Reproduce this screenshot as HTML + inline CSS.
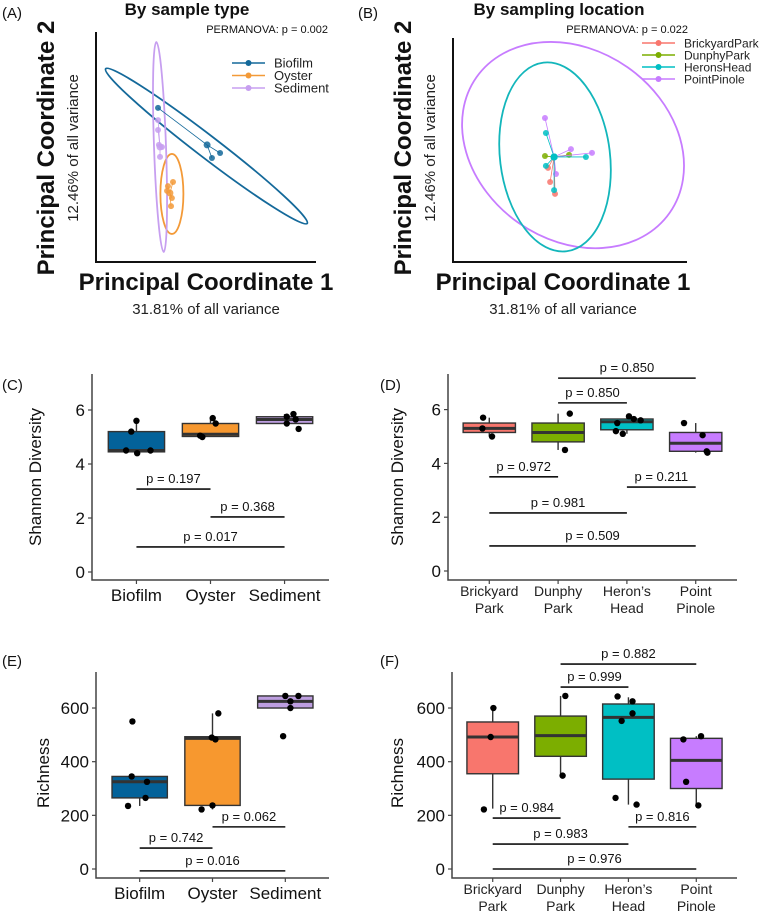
<!DOCTYPE html>
<html><head><meta charset="utf-8">
<style>
html,body{margin:0;padding:0;background:#fff;}
svg{display:block;font-family:"Liberation Sans",Arial,sans-serif;}
</style></head>
<body>
<svg id="fig" width="761" height="911" viewBox="0 0 761 911" xmlns="http://www.w3.org/2000/svg">
<g id="root"></g>
</svg>
<script>
// ---------- PCoA data (A) ----------
const typeGroups = ['Biofilm','Oyster','Sediment'];
const typeColors = ['#14699a','#f39a38','#c79ff0'];
const biofilmPts = [[0.505,0.509],[0.564,0.474],[0.527,0.452],[0.282,0.670]];
const oysterPts = [[0.336,0.300],[0.350,0.348],[0.323,0.309],[0.345,0.278],[0.341,0.243],[0.327,0.330]];
const sedimentPts = [[0.291,0.500],[0.282,0.574],[0.286,0.509],[0.300,0.500],[0.291,0.457],[0.282,0.617]];
const typeEllipses = [[0.502,0.504,127,11,37.5],[0.345,0.296,11.5,40,0],[0.291,0.500,6,105,-2]];
// ---------- PCoA data (B) ----------
const locGroups = ['BrickyardPark','DunphyPark','HeronsHead','PointPinole'];
const locColors = ['#F8766D','#7CAE00','#00BFC4','#C77CFF'];
const locCentroid = [0.432,0.469];
const brickPts = [[0.415,0.357],[0.436,0.304],[0.406,0.420]];
const dunphyPts = [[0.393,0.473],[0.496,0.478]];
const heronPts = [[0.397,0.576],[0.397,0.429],[0.568,0.469],[0.432,0.321]];
const pinolePts = [[0.393,0.643],[0.504,0.504],[0.594,0.487],[0.440,0.393]];
const locEllipses = [[0.513,0.522,118,95,35],[0.436,0.469,55,95,-7]];

// ---------- Box data ----------
const typeCats = ['Biofilm','Oyster','Sediment'];
const locCats = [['Brickyard','Park'],['Dunphy','Park'],['Heron’s','Head'],['Point','Pinole']];
const typeFill = ['#03629a','#f7982f','#bd9ee0'];
const locFill = ['#F8766D','#7CAE00','#00BFC4','#C77CFF'];
// [q1, median, q3, whiskerLo, whiskerHi]
const shannonTypeBox = [[4.45,4.5,5.2,4.4,5.6],[5.02,5.1,5.5,5.0,5.7],[5.5,5.65,5.75,5.5,5.85]];
const shannonTypePts = [[[5.6,0],[5.2,-0.07],[4.5,-0.14],[4.4,0.01],[4.5,0.19]],[[5.7,0.03],[5.5,0.07],[5.05,-0.14],[5.0,-0.11]],[[5.85,0.12],[5.75,0.03],[5.65,0.15],[5.5,0.03],[5.3,0.19]]];
const shannonTypeP = [[0,1,3.07,'p = 0.197'],[1,2,2.04,'p = 0.368'],[0,2,0.93,'p = 0.017']];
const shannonLocBox = [[5.15,5.3,5.5,5.0,5.7],[4.8,5.15,5.5,4.5,5.85],[5.25,5.55,5.65,5.1,5.75],[4.45,4.75,5.15,4.4,5.5]];
const shannonLocPts = [[[5.7,-0.09],[5.3,-0.1],[5.0,0.04]],[[5.85,0.17],[4.5,0.1]],[[5.75,0.03],[5.65,0.1],[5.6,0.2],[5.5,-0.14],[5.2,-0.16],[5.1,-0.06]],[[5.5,-0.17],[5.05,0.1],[4.45,0.16],[4.4,0.17]]];
const shannonLocP = [[1,3,7.17,'p = 0.850'],[1,2,6.25,'p = 0.850'],[0,1,3.5,'p = 0.972'],[2,3,3.12,'p = 0.211'],[0,2,2.16,'p = 0.981'],[0,3,0.93,'p = 0.509']];
const richTypeBox = [[265,325,345,235,345],[237,487,493,222,580],[600,625,645,600,645]];
const richTypePts = [[[550,-0.1],[345,-0.11],[325,0.1],[265,0.08],[235,-0.16]],[[580,0.08],[490,-0.01],[483,0.04],[237,0],[222,-0.15]],[[645,0],[645,0.18],[625,0.07],[600,0.07],[495,-0.03]]];
const richTypeP = [[1,2,157,'p = 0.062'],[0,1,78,'p = 0.742'],[0,2,-7,'p = 0.016']];
const richLocBox = [[355,492,548,225,600],[420,497,570,350,645],[335,565,615,240,640],[300,405,487,237,495]];
const richLocPts = [[[600,0.01],[492,-0.03],[222,-0.13]],[[645,0.07],[348,0.03]],[[643,-0.16],[625,0.06],[580,0.06],[552,-0.1],[265,-0.19],[240,0.12]],[[495,0.07],[483,-0.19],[325,-0.15],[237,0.03]]];
const richLocP = [[1,3,764,'p = 0.882'],[1,2,678,'p = 0.999'],[0,1,190,'p = 0.984'],[2,3,157,'p = 0.816'],[0,2,93,'p = 0.983'],[0,3,0,'p = 0.976']];
const shannonTicks = [0,2,4,6];
const richTicks = [0,200,400,600];

const NS='http://www.w3.org/2000/svg';
const root=document.getElementById('root');
function el(tag,attrs,parent,text){const e=document.createElementNS(NS,tag);for(const k in attrs)e.setAttribute(k,attrs[k]);if(text!==undefined)e.textContent=text;(parent||root).appendChild(e);return e;}

// ---------- PCoA panel ----------
function pcoa(cfg){
  const g=el('g',{});
  
  
  const xs=v=>cfg.x0+v*cfg.w, ys=v=>cfg.y0-v*cfg.h;
  cfg.ellipses.forEach((e,i)=>{
    const c=el('ellipse',{cx:xs(e[0]),cy:ys(e[1]),rx:e[2],ry:e[3],transform:`rotate(${e[4]} ${xs(e[0])} ${ys(e[1])})`,fill:'none',stroke:cfg.ellColors[i],'stroke-width':1.8},g);
    
    
  });
  cfg.groups.forEach((pts,gi)=>{
    const col=cfg.colors[gi]; const cen=cfg.centroids?cfg.centroids:pts[0];
    pts.forEach((p,j)=>{ if(!cfg.centroids&&j===0)return;
      el('line',{x1:xs(cen[0]),y1:ys(cen[1]),x2:xs(p[0]),y2:ys(p[1]),stroke:col,'stroke-width':0.8},g);});
    pts.forEach((p,j)=>{
      const c=el('circle',{cx:xs(p[0]),cy:ys(p[1]),r:(!cfg.centroids&&j===0)?3.5:3,fill:col,'fill-opacity':0.85},g);
      
      
    });
    if(cfg.centroids){el('circle',{cx:xs(cen[0]),cy:ys(cen[1]),r:3.5,fill:cfg.centColor},g);}
  });
  el('path',{d:`M${cfg.x0} ${cfg.y0-cfg.h}V${cfg.y0}H${cfg.x0+cfg.w}`,fill:'none',stroke:'#111','stroke-width':2},g);
  cfg.names.forEach((n,i)=>{
    const y=cfg.legY+i*cfg.legStep;
    el('line',{x1:cfg.legX,y1:y,x2:cfg.legX+33,y2:y,stroke:cfg.legColors[i],'stroke-width':1.5},g);
    el('circle',{cx:cfg.legX+16.5,cy:y,r:3,fill:cfg.legColors[i]},g);
    const t=el('text',{x:cfg.legX+42,y:y+4.5,'font-size':cfg.legFont,fill:'#222'},g,n);
    
    
  });
}
pcoa({name:'panel-a-pcoa-sample-type',x0:96,y0:262,w:220,h:230,ellipses:typeEllipses,ellColors:[typeColors[0],typeColors[1],typeColors[2]],ellNames:['biofilm','oyster','sediment'],
  groups:[biofilmPts,oysterPts,sedimentPts],colors:typeColors,legColors:typeColors,names:typeGroups,legX:232,legY:63,legStep:12.5,legFont:13});
pcoa({name:'panel-b-pcoa-location',x0:453,y0:262,w:234,h:224,ellipses:locEllipses,ellColors:['#c77cff','#13b6bb'],ellNames:['pointpinole','heronshead'],
  groups:[brickPts,dunphyPts,pinolePts,heronPts],colors:[locColors[0],locColors[1],locColors[3],locColors[2]],legColors:locColors,names:locGroups,centroids:locCentroid,centColor:'#00BFC4',legX:642,legY:43,legStep:12,legFont:12});
</script>
<script>
function txt(x,y,s,size,opts,name){const t=el('text',Object.assign({x:x,y:y,'font-size':size,fill:'#111'},opts||{}),root,s);return t;}
txt(2,18,'(A)',15,{},'panel-label-a');
txt(358,18,'(B)',15,{},'panel-label-b');
txt(187,15,'By sample type',17,{'text-anchor':'middle','font-weight':'bold'},'title-a');
txt(559,15,'By sampling location',17,{'text-anchor':'middle','font-weight':'bold'},'title-b');
txt(328,33,'PERMANOVA: p = 0.002',11,{'text-anchor':'end'},'permanova-a');
txt(688,33,'PERMANOVA: p = 0.022',11,{'text-anchor':'end'},'permanova-b');
[[0,'a'],[357,'b']].forEach(([dx,k])=>{
  txt(206+dx,290,'Principal Coordinate 1',24,{'text-anchor':'middle','font-weight':'bold'},'x-axis-title-'+k);
  txt(206+dx,314,'31.81% of all variance',15,{'text-anchor':'middle','fill':'#222'},'x-axis-subtitle-'+k);
  txt(0,0,'Principal Coordinate 2',24,{'text-anchor':'middle','font-weight':'bold',transform:`translate(${54+dx},148) rotate(-90)`},'y-axis-title-'+k);
  txt(0,0,'12.46% of all variance',15,{'text-anchor':'middle','fill':'#222',transform:`translate(${78+dx},148) rotate(-90)`},'y-axis-subtitle-'+k);
});
txt(2,390,'(C)',15,{},'panel-label-c');
txt(380,390,'(D)',15,{},'panel-label-d');
txt(2,666,'(E)',15,{},'panel-label-e');
txt(380,666,'(F)',15,{},'panel-label-f');

function boxPanel(cfg){
  const g=el('g',{});  
  const n=cfg.cats.length, step=(cfg.x1-cfg.x0)/(n+0.2);
  const xs=i=>cfg.x0+(i+0.6)*step, ys=v=>cfg.yZero-v*cfg.k;
  const bw=step*0.76;
  el('path',{d:`M${cfg.x0} ${cfg.yTop}V${cfg.yAxis}H${cfg.x1}`,fill:'none',stroke:'#444','stroke-width':1.5},g);
  cfg.ticks.forEach(t=>{
    el('line',{x1:cfg.x0-4,y1:ys(t),x2:cfg.x0,y2:ys(t),stroke:'#444','stroke-width':1.2},g);
    const tt=el('text',{x:cfg.x0-7,y:ys(t)+6,'font-size':17,'text-anchor':'end',fill:'#111'},g,String(t));
     
  });
  cfg.cats.forEach((c,i)=>{
    el('line',{x1:xs(i),y1:cfg.yAxis,x2:xs(i),y2:cfg.yAxis+4,stroke:'#444','stroke-width':1.2},g);
    if(Array.isArray(c)){
      c.forEach((line,j)=>{const t=el('text',{x:xs(i),y:cfg.yAxis+16+j*17,'font-size':14,'text-anchor':'middle',fill:'#222'},g,line);});
    } else {const t=el('text',{x:xs(i),y:cfg.yAxis+21,'font-size':17,'text-anchor':'middle',fill:'#111'},g,c);}
    const b=cfg.box[i];
    el('line',{x1:xs(i),y1:ys(b[3]),x2:xs(i),y2:ys(b[4]),stroke:'#333','stroke-width':1.4},g);
    const r=el('rect',{x:xs(i)-bw/2,y:ys(b[2]),width:bw,height:ys(b[0])-ys(b[2]),fill:cfg.fill[i],stroke:'#333','stroke-width':1.4},g);
    
    
    el('line',{x1:xs(i)-bw/2,y1:ys(b[1]),x2:xs(i)+bw/2,y2:ys(b[1]),stroke:'#333','stroke-width':3},g);
    cfg.pts[i].forEach(p=>{
      const d=el('circle',{cx:xs(i)+p[1]*step,cy:ys(p[0]),r:3.2,fill:'#000'},g);
       
    });
  });
  cfg.p.forEach(p=>{
    el('line',{x1:xs(p[0]),y1:ys(p[2]),x2:xs(p[1]),y2:ys(p[2]),stroke:'#111','stroke-width':1.6},g);
    const t=el('text',{x:(xs(p[0])+xs(p[1]))/2,y:ys(p[2])-6,'font-size':13,'text-anchor':'middle',fill:'#111'},g,p[3]);
     
  });
  const yt=el('text',{'font-size':17,'text-anchor':'middle',fill:'#111',transform:`translate(${cfg.titleX},${cfg.titleY}) rotate(-90)`},g,cfg.title);
   
}
boxPanel({name:'panel-c-shannon-type',x0:92,x1:329,yZero:572,k:27,yTop:374,yAxis:580,ticks:shannonTicks,cats:typeCats,box:shannonTypeBox,pts:shannonTypePts,p:shannonTypeP,fill:typeFill,title:'Shannon Diversity',titleX:41,titleY:477});
boxPanel({name:'panel-d-shannon-location',x0:448,x1:737,yZero:571,k:26.9,yTop:374,yAxis:580,ticks:shannonTicks,cats:locCats,box:shannonLocBox,pts:shannonLocPts,p:shannonLocP,fill:locFill,title:'Shannon Diversity',titleX:403,titleY:477});
boxPanel({name:'panel-e-richness-type',x0:96,x1:329,yZero:869,k:0.2683,yTop:672,yAxis:878,ticks:richTicks,cats:typeCats,box:richTypeBox,pts:richTypePts,p:richTypeP,fill:typeFill,title:'Richness',titleX:49,titleY:773});
boxPanel({name:'panel-f-richness-location',x0:452,x1:737,yZero:869,k:0.2683,yTop:672,yAxis:878,ticks:richTicks,cats:locCats,box:richLocBox,pts:richLocPts,p:richLocP,fill:locFill,title:'Richness',titleX:403,titleY:773});
</script>
</body></html>
